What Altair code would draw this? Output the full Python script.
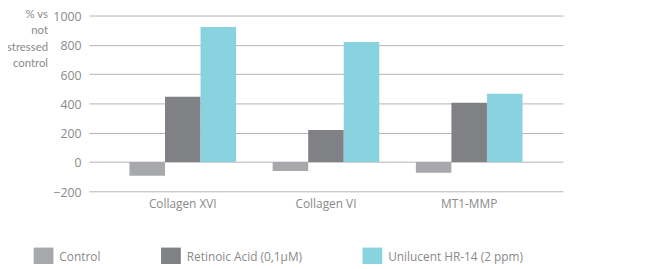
import altair as alt
import pandas as pd

categories = ["Collagen XVI", "Collagen VI", "MT1-MMP"]
series = ["Control", "Retinoic Acid (0,1μM)", "Unilucent HR-14 (2 ppm)"]
control = [-94, -62, -73]
retinoic = [446, 218, 404]
unilucent = [921, 820, 466]
y_ticks = [-200, 0, 200, 400, 600, 800, 1000]
colors = ["#a7a8ab", "#808184", "#89d3e0"]

rows = []
for vals, s in zip([control, retinoic, unilucent], series):
    for c, v in zip(categories, vals):
        rows.append({"category": c, "series": s, "value": v})
df = pd.DataFrame(rows)

font = "Open Sans"
grey = "#8a8a8a"

chart = alt.Chart(df).mark_bar().encode(
    x=alt.X("category:N", sort=categories,
            scale=alt.Scale(paddingInner=0, paddingOuter=0.155),
            axis=alt.Axis(title=None, labelAngle=0, domain=False, ticks=False,
                          labelPadding=7, labelFontSize=12, labelColor=grey,
                          labelFont=font)),
    xOffset=alt.XOffset("series:N", sort=series,
                        scale=alt.Scale(paddingInner=0, paddingOuter=0.514)),
    y=alt.Y("value:Q",
            scale=alt.Scale(domain=[-200, 1000], nice=False),
            axis=alt.Axis(values=y_ticks, format="d",
                          title=["% vs", "not", "stressed", "control"],
                          titleAngle=0, titleAlign="right", titleBaseline="top",
                          titleX=-42, titleY=-7, titleLineHeight=16.5,
                          titleFontSize=11.5, titleFontWeight="normal", titleColor=grey,
                          titleFont="Lato",
                          domain=False, ticks=False, labelPadding=8, labelOffset=1,
                          labelFontSize=12.5, labelColor=grey, labelFont=font,
                          gridColor="#b3b3b3", gridWidth=1)),
    color=alt.Color("series:N", sort=series,
                    scale=alt.Scale(domain=series, range=colors),
                    legend=alt.Legend(title=None, orient="none", legendX=-56, legendY=235,
                                      direction="horizontal", columns=3,
                                      symbolType="square", symbolSize=400,
                                      symbolStrokeWidth=0, symbolOpacity=1,
                                      labelFontSize=12, labelColor=grey, labelFont=font,
                                      labelOffset=6, columnPadding=61, labelLimit=300)),
).properties(
    width=480, height=178,
    autosize=alt.AutoSizeParams(type="none"),
    padding={"left": 82, "top": 6, "right": 78, "bottom": 72},
).configure_view(stroke=None)

chart.save("out.html", embed_options={"renderer": "svg", "actions": False})
